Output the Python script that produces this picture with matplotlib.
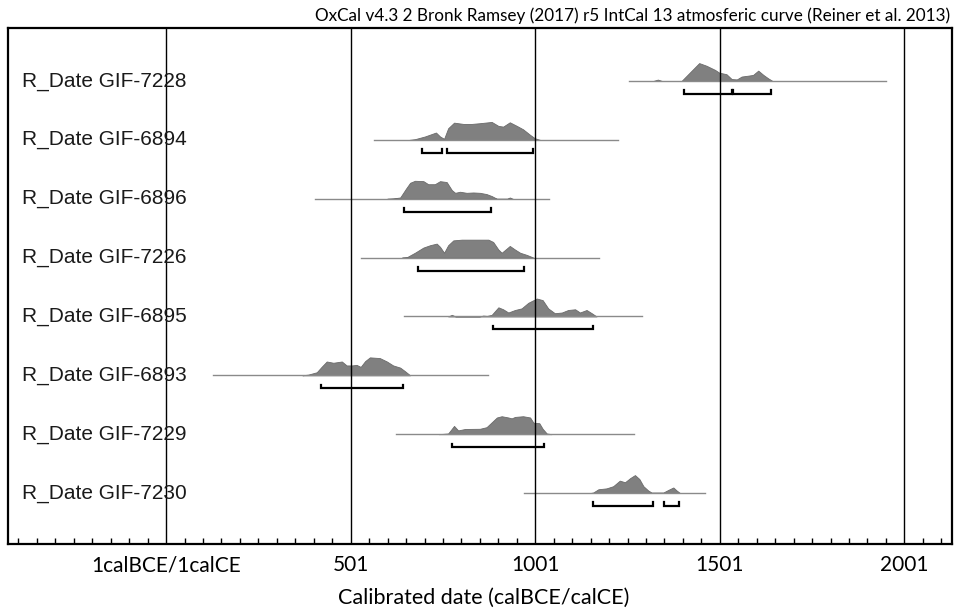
import matplotlib
matplotlib.use("Agg")
import matplotlib.pyplot as plt
from matplotlib.ticker import MultipleLocator, FixedLocator, NullFormatter

# sample names, top to bottom
labels = ["R_Date GIF-7228", "R_Date GIF-6894", "R_Date GIF-6896", "R_Date GIF-7226",
          "R_Date GIF-6895", "R_Date GIF-6893", "R_Date GIF-7229", "R_Date GIF-7230"]

# extent of the thin baseline of every distribution (calendar years)
line_start = [1255, 564, 404, 529, 645, 127, 624, 971]
line_end = [1950, 1226, 1039, 1174, 1289, 874, 1268, 1461]

# posterior shapes (year, relative probability)
gif7228_years = [1320, 1333, 1345, 1397, 1445, 1465, 1488, 1499, 1519, 1533, 1547, 1560, 1578, 1591, 1605, 1619, 1632, 1644]
gif7228_probs = [0, 0.08, 0, 0, 1.0, 0.85, 0.62, 0.47, 0.38, 0.11, 0.09, 0.25, 0.30, 0.34, 0.58, 0.34, 0.15, 0]

gif6894_years = [660, 675, 702, 732, 743, 754, 765, 781, 806, 829, 851, 883, 901, 914, 932, 951, 968, 987, 1000, 1014]
gif6894_probs = [0, 0.04, 0.19, 0.41, 0.19, 0.06, 0.65, 0.96, 0.89, 0.89, 0.93, 1.0, 0.78, 0.74, 0.98, 0.78, 0.59, 0.28, 0.09, 0]

gif6896_years = [600, 616, 635, 651, 662, 675, 698, 711, 729, 743, 761, 775, 784, 797, 815, 833, 851, 869, 883, 897, 925, 932, 940]
gif6896_probs = [0, 0.02, 0.07, 0.57, 0.89, 1.0, 0.98, 0.81, 0.81, 0.98, 0.93, 0.48, 0.33, 0.39, 0.33, 0.35, 0.33, 0.26, 0.15, 0, 0, 0.07, 0]

gif7226_years = [640, 653, 675, 698, 716, 734, 743, 754, 765, 779, 802, 874, 887, 901, 910, 924, 932, 946, 960, 978, 996]
gif7226_probs = [0, 0.02, 0.27, 0.56, 0.69, 0.78, 0.6, 0.27, 0.69, 0.96, 1.0, 1.0, 0.87, 0.45, 0.27, 0.51, 0.65, 0.45, 0.27, 0.15, 0]

gif6895_years = [765, 775, 785, 850, 860, 870, 883, 901, 914, 928, 946, 964, 982, 1005, 1021, 1036, 1054, 1073, 1090, 1109, 1122, 1140, 1154, 1167]
gif6895_probs = [0, 0.09, 0, 0, 0.05, 0.03, 0.09, 0.51, 0.4, 0.22, 0.36, 0.45, 0.76, 1.0, 0.91, 0.45, 0.18, 0.22, 0.36, 0.4, 0.22, 0.36, 0.18, 0]

gif6893_years = [370, 386, 409, 422, 436, 454, 477, 490, 504, 517, 528, 540, 553, 580, 599, 616, 635, 648, 662]
gif6893_probs = [0, 0.04, 0.17, 0.47, 0.77, 0.70, 0.77, 0.55, 0.55, 0.58, 0.47, 0.79, 1.0, 0.96, 0.77, 0.55, 0.43, 0.23, 0]

gif7229_years = [740, 765, 781, 792, 811, 851, 869, 883, 897, 910, 928, 937, 946, 968, 987, 996, 1012, 1021, 1032, 1045]
gif7229_probs = [0, 0.04, 0.46, 0.21, 0.29, 0.30, 0.39, 0.66, 0.93, 1.0, 0.93, 0.88, 0.96, 1.0, 0.93, 0.64, 0.61, 0.30, 0.04, 0]

gif7230_years = [1150, 1158, 1172, 1194, 1212, 1230, 1244, 1258, 1271, 1283, 1294, 1307, 1316, 1348, 1361, 1375, 1384, 1393]
gif7230_probs = [0, 0.03, 0.21, 0.26, 0.38, 0.69, 0.60, 0.83, 1.0, 0.78, 0.38, 0.14, 0.03, 0.03, 0.17, 0.31, 0.14, 0]

profile_years = [gif7228_years, gif6894_years, gif6896_years, gif7226_years,
                 gif6895_years, gif6893_years, gif7229_years, gif7230_years]
profile_probs = [gif7228_probs, gif6894_probs, gif6896_probs, gif7226_probs,
                 gif6895_probs, gif6893_probs, gif7229_probs, gif7230_probs]

# 95.4% ranges under each distribution
ranges = [[(1404, 1533), (1537, 1639)],
          [(695, 747), (763, 994)],
          [(646, 880)],
          [(682, 971)],
          [(886, 1158)],
          [(420, 644)],
          [(775, 1025)],
          [(1157, 1319), (1350, 1390)]]

tick_values = [1, 501, 1001, 1501, 2001]
tick_labels = ["1calBCE/1calCE", "501", "1001", "1501", "2001"]

PEAK = 0.305      # height of a distribution in row units
BRACKET = 0.22    # bracket offset under the baseline
HOOK = 0.06       # height of the bracket ends


def drawRow(ax, row, index):
    y = len(labels) - index

    # thin line over the whole modelled range
    ax.plot([line_start[index], line_end[index]], [y, y], color="#8a8a8a", lw=1.0, zorder=1.5)

    # filled probability shape
    top = [y + p * PEAK for p in profile_probs[index]]
    ax.fill_between(profile_years[index], y, top, color="#808080", lw=0.6,
                    edgecolor="#6a6a6a", zorder=1)

    # range brackets
    yb = y - BRACKET
    for start, end in ranges[index]:
        ax.plot([start, start, end, end], [yb + HOOK, yb, yb, yb + HOOK],
                color="black", lw=1.6, solid_joinstyle="miter", zorder=3)

    # sample name on the left
    ax.text(0.0143, y, row, transform=ax.get_yaxis_transform(), ha="left", va="center",
            fontsize=15, family="Liberation Sans", color="#1a1a1a", zorder=4)


def main():
    fig = plt.figure(figsize=(9.55, 6.10), dpi=100)
    ax = fig.add_axes([0.0089, 0.1082, 0.9876, 0.8458])

    for index, row in enumerate(labels):
        drawRow(ax, row, index)

    ax.set_xlim(-426, 2129)
    ax.set_ylim(0.134, 8.90)

    # ticks: labelled every 500 years with grid lines, small ticks every 50
    ax.xaxis.set_major_locator(FixedLocator(tick_values))
    ax.set_xticklabels(tick_labels, family="Lato", fontsize=15)
    ax.xaxis.set_minor_locator(MultipleLocator(50, offset=1))
    ax.xaxis.set_minor_formatter(NullFormatter())
    ax.tick_params(axis="x", which="major", direction="in", length=0, pad=8)
    ax.tick_params(axis="x", which="minor", direction="in", length=4, width=1)
    ax.set_yticks([])
    ax.grid(axis="x", which="major", color="black", lw=1.0)
    ax.set_axisbelow(False)

    for spine in ax.spines.values():
        spine.set_linewidth(1.6)

    fig.text(0.9948, 0.975, "OxCal v4.3 2 Bronk Ramsey (2017) r5 IntCal 13 atmosferic curve (Reiner et al. 2013)",
             ha="right", va="center", family="Lato", fontsize=12.3)
    fig.text(0.506, 0.02, "Calibrated date (calBCE/calCE)", ha="center", va="center",
             family="Lato", fontsize=15.5)

    fig.savefig("out.png", dpi=100)


if __name__ == "__main__":
    main()
